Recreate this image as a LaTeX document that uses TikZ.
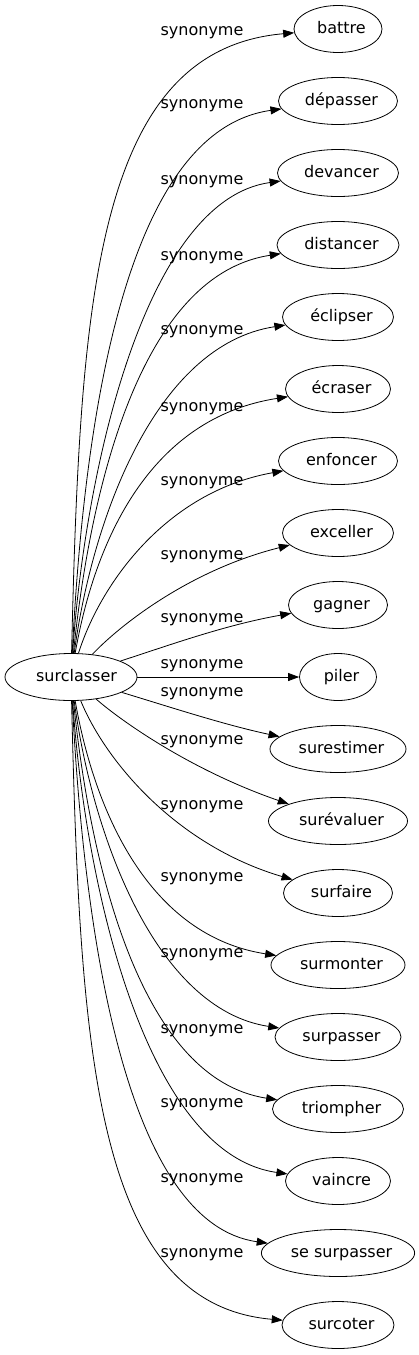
\documentclass[tikz,border=0pt]{standalone}
\usepackage{fontspec}
\setmainfont{DejaVu Sans}
\usetikzlibrary{arrows.meta}
\usetikzlibrary{shapes}

\tikzset{
  word/.style={draw, ellipse, inner sep=0pt, minimum height=47pt,
    text height=11pt, text depth=3pt, font=\fontsize{16pt}{19pt}\selectfont,
    execute at begin node=\hspace*{7pt}},
  syn/.style={inner sep=0pt, font=\fontsize{16pt}{19pt}\selectfont},
  >={Triangle[length=11pt, width=8pt]}
}

\begin{document}
\begin{tikzpicture}[x=1pt, y=-1pt, line width=0.8pt]
    \useasboundingbox (0,0) rectangle (419,1355);

    \node[word, minimum width=132pt] (S) at (71,677) {\hspace*{4pt}surclasser};

    \node[word, minimum width=88pt]  (battre)     at (338,29)   {battre};
    \node[word, minimum width=119pt] (depasser)   at (338,101)  {dépasser};
    \node[word, minimum width=121pt] (devancer)   at (338,173)  {devancer};
    \node[word, minimum width=122pt] (distancer)  at (338,245)  {distancer};
    \node[word, minimum width=111pt] (eclipser)   at (338,317)  {éclipser};
    \node[word, minimum width=105pt] (ecraser)    at (338,389)  {écraser};
    \node[word, minimum width=119pt] (enfoncer)   at (338,461)  {enfoncer};
    \node[word, minimum width=111pt] (exceller)   at (338,533)  {exceller};
    \node[word, minimum width=99pt]  (gagner)     at (338,605)  {gagner};
    \node[word, minimum width=77pt]  (piler)      at (338,677)  {piler};
    \node[word, minimum width=136pt] (surestimer) at (338,749)  {surestimer};
    \node[word, minimum width=139pt] (surevaluer) at (338,821)  {surévaluer};
    \node[word, minimum width=109pt] (surfaire)   at (338,893)  {surfaire};
    \node[word, minimum width=134pt] (surmonter)  at (338,965)  {surmonter};
    \node[word, minimum width=126pt] (surpasser)  at (338,1037) {surpasser};
    \node[word, minimum width=131pt] (triompher)  at (338,1109) {triompher};
    \node[word, minimum width=105pt] (vaincre)    at (338,1181) {vaincre};
    \node[word, minimum width=152pt] (sesurp)     at (338,1253) {se surpasser};
    \node[word, minimum width=112pt] (surcoter)   at (338,1325) {surcoter};

    % edges above
    \draw[->] (S) .. controls (80,300) and (95,50) .. (battre);
    \draw[->] (S) .. controls (85,400) and (130,130) .. (depasser);
    \draw[->] (S) .. controls (85,470) and (145,200) .. (devancer);
    \draw[->] (S) .. controls (90,490) and (140,275) .. (distancer);
    \draw[->] (S) .. controls (92,520) and (155,345) .. (eclipser);
    \draw[->] (S) .. controls (95,540) and (150,418) .. (ecraser);
    \draw[->] (S) .. controls (100,585) and (165,492) .. (enfoncer);
    \draw[->] (S) .. controls (120,625) and (190,570) .. (exceller);
    \draw[->] (S) .. controls (170,645) and (225,625) .. (gagner);
    \draw[->] (S) to (piler);
    % edges below
    \draw[->] (S) .. controls (170,707) and (225,725) .. (surestimer);
    \draw[->] (S) .. controls (120,720) and (190,770) .. (surevaluer);
    \draw[->] (S) .. controls (105,760) and (175,845) .. (surfaire);
    \draw[->] (S) .. controls (95,814) and (150,936) .. (surmonter);
    \draw[->] (S) .. controls (92,834) and (155,1009) .. (surpasser);
    \draw[->] (S) .. controls (90,864) and (140,1079) .. (triompher);
    \draw[->] (S) .. controls (85,884) and (145,1154) .. (vaincre);
    \draw[->] (S) .. controls (85,954) and (130,1224) .. (sesurp);
    \draw[->] (S) .. controls (80,1054) and (95,1304) .. (surcoter);

    % labels
    \node[syn] (l1)  at (202,33)   {synonyme};
    \node[syn] (l2)  at (202,106)  {synonyme};
    \node[syn] (l3)  at (202,182)  {synonyme};
    \node[syn] (l4)  at (202,258)  {synonyme};
    \node[syn] (l5)  at (202,332)  {synonyme};
    \node[syn] (l6)  at (202,409)  {synonyme};
    \node[syn] (l7)  at (202,483)  {synonyme};
    \node[syn] (l8)  at (202,557)  {synonyme};
    \node[syn] (l9)  at (202,620)  {synonyme};
    \node[syn] (l10) at (202,666)  {synonyme};
    \node[syn] (l11) at (202,694)  {synonyme};
    \node[syn] (l12) at (202,742)  {synonyme};
    \node[syn] (l13) at (202,807)  {synonyme};
    \node[syn] (l14) at (202,879)  {synonyme};
    \node[syn] (l15) at (202,955)  {synonyme};
    \node[syn] (l16) at (202,1031) {synonyme};
    \node[syn] (l17) at (202,1105) {synonyme};
    \node[syn] (l18) at (202,1180) {synonyme};
    \node[syn] (l19) at (202,1255) {synonyme};

\end{tikzpicture}
\end{document}
